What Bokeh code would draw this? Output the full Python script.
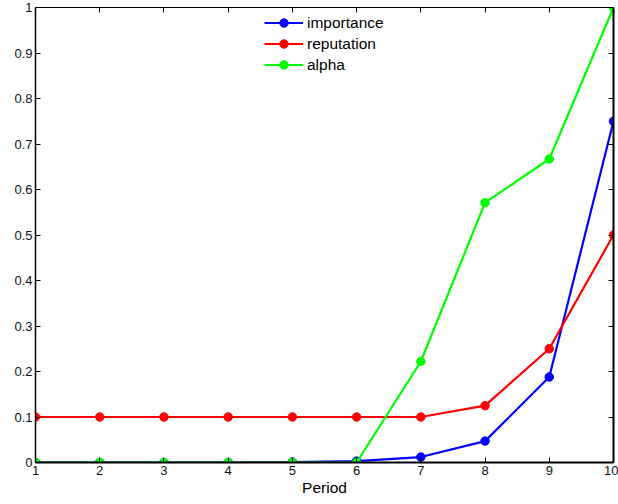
from bokeh.plotting import figure
from bokeh.models import Range1d, FixedTicker, LinearAxis, Legend
from bokeh.embed import file_html
from bokeh.resources import INLINE

periods = [1, 2, 3, 4, 5, 6, 7, 8, 9, 10]
importance = [0.0, 0.0, 0.0, 0.0, 0.001, 0.003, 0.012, 0.047, 0.188, 0.75]
reputation = [0.1, 0.1, 0.1, 0.1, 0.1, 0.1, 0.1, 0.125, 0.25, 0.5]
alpha = [0.0, 0.0, 0.0, 0.0, 0.0, 0.0, 0.222, 0.571, 0.667, 1.0]
y_ticks = [0, 0.1, 0.2, 0.3, 0.4, 0.5, 0.6, 0.7, 0.8, 0.9, 1]
y_tick_labels = ["0", "0.1", "0.2", "0.3", "0.4", "0.5", "0.6", "0.7", "0.8", "0.9", "1"]

FONT = "Liberation Sans"

p = figure(width=618, height=504, output_backend="svg", toolbar_location=None,
           x_range=Range1d(1, 10), y_range=Range1d(0, 1),
           min_border_left=35, min_border_right=5, min_border_top=7, min_border_bottom=42)
p.styles = {"position": "absolute", "left": "0px", "top": "0px"}
p.grid.visible = False
p.outline_line_color = None
p.background_fill_color = "white"
p.border_fill_color = "white"

def style_axis(ax, width=1):
    ax.major_tick_in = 5
    ax.major_tick_out = 0
    ax.minor_tick_in = 0
    ax.minor_tick_out = 0
    ax.axis_line_color = "black"
    ax.axis_line_width = width
    ax.major_tick_line_color = "black"
    ax.major_label_text_font = FONT
    ax.major_label_text_font_size = "13px"
    ax.major_label_text_color = "#111111"
    ax.major_label_standoff = 3

xa = p.xaxis[0]
xa.ticker = FixedTicker(ticks=periods)
style_axis(xa, 2)
xa.axis_label = "Period"
xa.axis_label_text_font = FONT
xa.axis_label_text_font_style = "normal"
xa.axis_label_text_font_size = "15.5px"
xa.axis_label_text_color = "black"
xa.axis_label_standoff = 1

ya = p.yaxis[0]
ya.ticker = FixedTicker(ticks=y_ticks)
ya.major_label_overrides = {t: s for t, s in zip(y_ticks, y_tick_labels)}
style_axis(ya, 1.5)
ya.major_label_standoff = 3

top = LinearAxis(ticker=FixedTicker(ticks=periods))
style_axis(top, 1)
top.major_label_text_font_size = "0px"
top.major_label_text_alpha = 0
p.add_layout(top, "above")
right = LinearAxis(ticker=FixedTicker(ticks=y_ticks))
style_axis(right, 2)
right.major_label_text_font_size = "0px"
right.major_label_text_alpha = 0
p.add_layout(right, "right")

series = [("importance", importance, "#0000FF"),
          ("reputation", reputation, "#FF0000"),
          ("alpha", alpha, "#00FF00")]
items = []
for name, vals, col in series:
    l = p.line(periods, vals, line_color=col, line_width=2.2)
    s = p.scatter(periods, vals, size=8.5, fill_color=col, line_color=col)
    items.append((name, [l, s]))

legend = Legend(items=items, location=(229, 387))
legend.border_line_alpha = 0
legend.background_fill_alpha = 0
legend.padding = 0
legend.margin = 0
legend.spacing = 0
legend.label_height = 21
legend.glyph_height = 21
legend.glyph_width = 39
legend.label_standoff = 4
legend.label_text_font = FONT
legend.label_text_font_size = "15.5px"
legend.label_text_color = "black"
p.add_layout(legend, "center")

open("out.html", "w").write(file_html(p, INLINE))
